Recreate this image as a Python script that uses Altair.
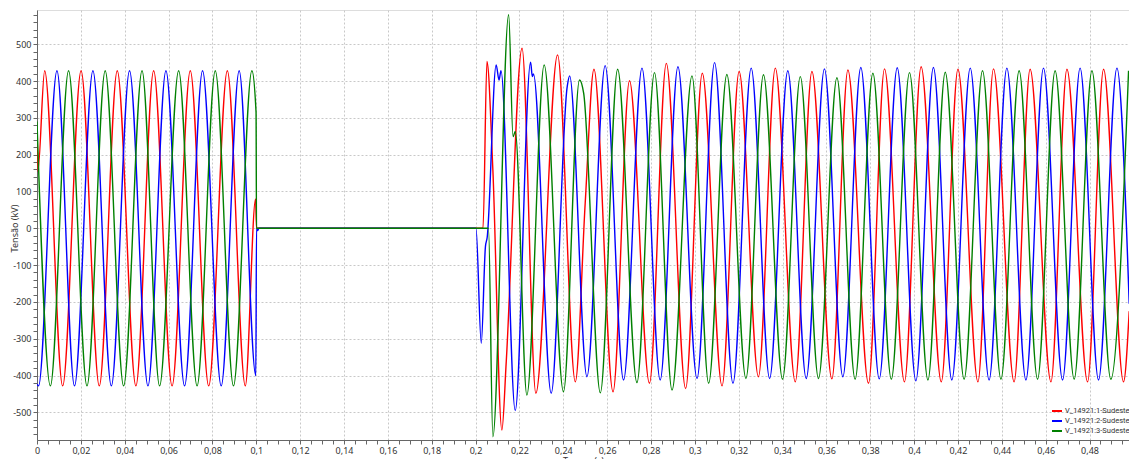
import altair as alt
import pandas as pd

# ---- data (time in s, voltage in kV) ----
series_names = ["V_14921:1-Sudeste", "V_14921:2-Sudeste", "V_14921:3-Sudeste"]
series_colors = ["#FF0000", "#0000FF", "#008000"]

red_t = [0.0, 0.0004, 0.0035, 0.0117, 0.0201, 0.0284, 0.0366, 0.0451, 0.0532, 0.0616,
         0.0699, 0.0783, 0.0868, 0.0950, 0.0997, 0.1001, 0.2034, 0.2052, 0.2079, 0.2120,
         0.2140, 0.2212, 0.2275, 0.2374, 0.2455, 0.2500, 0.2540, 0.2627, 0.2702, 0.2793,
         0.2870, 0.2958, 0.3034, 0.3124, 0.3202, 0.3290, 0.3367, 0.3458, 0.3534, 0.3625,
         0.3698, 0.3792, 0.3865, 0.3956, 0.4032, 0.4124, 0.4200, 0.4291, 0.4362, 0.4456,
         0.4529, 0.4624, 0.4697, 0.4791, 0.4864, 0.4955, 0.4981]
red_v = [270, 155, 428, -428, 428, -428, 428, -428, 428, -428,
         428, -428, 428, -428, 80, 0, 0, 453, 158, -548,
         -362, 489, -448, 471, -417, 68, 432, -444, 401, -421,
         448, -435, 421, -428, 426, -403, 435, -417, 426, -409,
         430, -421, 433, -417, 439, -417, 432, -417, 433, -417,
         432, -417, 432, -417, 432, -417, -225]

blue_t = [0.0, 0.0007, 0.0091, 0.0171, 0.0255, 0.0339, 0.0422, 0.0506, 0.0588, 0.0673,
          0.0755, 0.0840, 0.0922, 0.0998, 0.1001, 0.1006, 0.1012, 0.2002, 0.2026, 0.2045,
          0.2053, 0.2094, 0.2107, 0.2116, 0.2181, 0.2251, 0.2259, 0.2264, 0.2345, 0.2418,
          0.2429, 0.2508, 0.2591, 0.2675, 0.2759, 0.2842, 0.2923, 0.3010, 0.3090, 0.3174,
          0.3257, 0.3341, 0.3424, 0.3508, 0.3591, 0.3675, 0.3757, 0.3841, 0.3923, 0.4008,
          0.4088, 0.4172, 0.4256, 0.4342, 0.4423, 0.4510, 0.4590, 0.4677, 0.4757, 0.4841,
          0.4925, 0.4981]
blue_v = [-423, -428, 428, -428, 428, -428, 428, -428, 428, -428,
          428, -428, 428, -400, 0, -6, 0, 0, -312, -50,
          -25, 444, 403, 428, -495, 451, 412, 419, -448, 385,
          414, -403, 442, -412, 435, -412, 439, -408, 450, -421,
          435, -408, 428, -408, 433, -403, 437, -409, 436, -414,
          437, -412, 435, -412, 435, -412, 435, -412, 435, -412,
          435, -205]

green_t = [0.0, 0.0061, 0.0144, 0.0228, 0.0311, 0.0395, 0.0479, 0.0559, 0.0646, 0.0730,
           0.0813, 0.0896, 0.0980, 0.0999, 0.1001, 0.2059, 0.2079, 0.2151, 0.2171, 0.2181,
           0.2234, 0.2313, 0.2401, 0.2474, 0.2493, 0.2569, 0.2648, 0.2736, 0.2816, 0.2896,
           0.2987, 0.3063, 0.3146, 0.3233, 0.3313, 0.3400, 0.3481, 0.3564, 0.3648, 0.3731,
           0.3812, 0.3896, 0.3979, 0.4063, 0.4142, 0.4228, 0.4312, 0.4396, 0.4479, 0.4563,
           0.4643, 0.4730, 0.4811, 0.4897, 0.4978]
green_v = [290, -428, 428, -428, 428, -428, 428, -428, 428, -428,
           428, -428, 428, 315, 0, 0, -566, 580, 249, 263,
           -453, 444, -444, 403, 367, -447, 432, -419, 423, -439,
           414, -421, 418, -408, 417, -410, 412, -408, 409, -410,
           421, -410, 423, -412, 424, -410, 428, -410, 428, -410,
           428, -410, 428, -410, 428]

x_ticks = [round(i * 0.005, 3) for i in range(0, 100)]
y_ticks = list(range(-560, 600, 20))

rows = []
for name, ts, vs in zip(series_names, [red_t, blue_t, green_t], [red_v, blue_v, green_v]):
    for k, (t, v) in enumerate(zip(ts, vs)):
        rows.append({"serie": name, "t": t, "v": v, "ord": k})
df = pd.DataFrame(rows)

font = "Noto Sans"

x_major = "abs(datum.value*50 - round(datum.value*50)) < 0.001"
y_major = "datum.value % 100 == 0"

chart = alt.Chart(df).mark_line(
    strokeWidth=1.4, interpolate="monotone", clip=True
).encode(
    x=alt.X(
        "t:Q",
        scale=alt.Scale(domain=[0, 0.498], nice=False, zero=False),
        axis=alt.Axis(
            title="Tempo (s)",
            values=x_ticks,
            labelExpr=x_major + " ? replace(format(datum.value, '~g'), '.', ',') : ''",
            labelOverlap=False,
            labelFlush=False,
            labelPadding=2,
            labelFontSize=9,
            labelColor="#333333",
            labelFont=font,
            tickSize=4,
            tickColor="#666666",
            domainColor="#666666",
            grid=True,
            gridDash=[2, 2],
            gridColor="#c8c8c8",
            gridOpacity={"condition": {"test": x_major, "value": 1}, "value": 0},
            titleFont=font,
            titleFontSize=9,
            titleFontWeight="normal",
            titleColor="#333333",
            titleBaseline="top",
            titleY=16,
        ),
    ),
    y=alt.Y(
        "v:Q",
        scale=alt.Scale(domain=[-575, 593], nice=False, zero=False),
        axis=alt.Axis(
            title="Tensão (kV)",
            values=y_ticks,
            labelExpr=y_major + " ? '' + datum.value : ''",
            labelOverlap=False,
            labelFlush=False,
            labelPadding=2,
            labelFontSize=9,
            labelColor="#333333",
            labelFont=font,
            tickSize=4,
            tickColor="#666666",
            domainColor="#666666",
            grid=True,
            gridDash=[2, 2],
            gridColor="#c8c8c8",
            gridOpacity={"condition": {"test": y_major, "value": 1}, "value": 0},
            titleFont=font,
            titleFontSize=9,
            titleFontWeight="normal",
            titleColor="#333333",
            titleAngle=270,
            titleBaseline="middle",
            titleX=-23,
            titleY=218,
        ),
    ),
    color=alt.Color(
        "serie:N",
        scale=alt.Scale(domain=series_names, range=series_colors),
        legend=alt.Legend(
            title=None,
            orient="none",
            legendX=1014,
            legendY=395,
            symbolType="stroke",
            symbolStrokeWidth=2,
            symbolSize=100,
            labelFontSize=7.5,
            labelFont="Roboto",
            labelColor="#333333",
            rowPadding=-1,
            labelOffset=2,
        ),
    ),
    order="ord:Q",
    detail="serie:N",
).properties(
    width=1092,
    height=430,
    autosize=alt.AutoSizeParams(type="none"),
    padding={"left": 37, "top": 10, "right": 0, "bottom": 19},
).configure_view(
    stroke="#666666", strokeWidth=1
).configure(background="white")

chart.save("out.html", embed_options={"renderer": "svg", "actions": False})
